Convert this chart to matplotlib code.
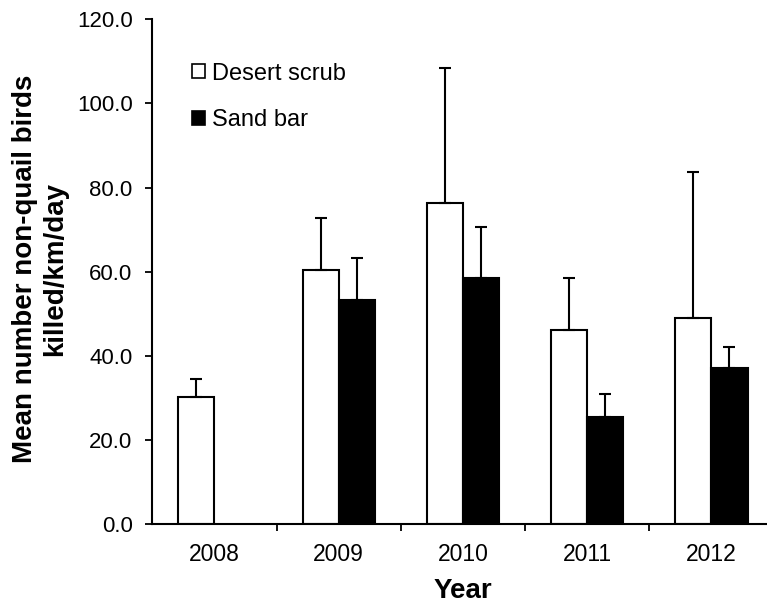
#!/usr/bin/env python3
"""Non-quail bird kills per km per day, desert scrub vs sand bar, 2008-2012."""
import numpy as np
import matplotlib
matplotlib.use("Agg")
import matplotlib.pyplot as plt
from matplotlib.patches import Patch
from matplotlib.ticker import FormatStrFormatter

years = ["2008", "2009", "2010", "2011", "2012"]
desert_mean = [30.3, 60.4, 76.3, 46.1, 49.0]
desert_err = [4.1, 12.3, 32.1, 12.4, 34.8]
sand_mean = [np.nan, 53.2, 58.6, 25.5, 37.2]
sand_err = [np.nan, 10.1, 12.0, 5.3, 4.9]

plt.rcParams["font.family"] = ["Liberation Sans", "DejaVu Sans"]


def main():
    fig = plt.figure(figsize=(7.67, 6.02), dpi=100)
    # axes run a little past the right edge, as in the source image
    ax = fig.add_axes([0.1986, 0.1296, 0.81, 0.8384])

    x = np.arange(len(years))
    w = 0.29
    ekw = dict(elinewidth=1.5, capthick=1.5, ecolor="black")
    ax.bar(x - w / 2, desert_mean, w, color="white", edgecolor="black", lw=1.5,
           yerr=[np.zeros(len(x)), desert_err], capsize=4, error_kw=ekw, zorder=2)
    ax.bar(x + w / 2, sand_mean, w, color="black", edgecolor="black", lw=1.5,
           yerr=[np.zeros(len(x)), sand_err], capsize=4, error_kw=ekw, zorder=2)

    ax.set_xlim(-0.5, 4.5)
    ax.set_ylim(0, 120)
    ax.set_yticks(np.arange(0, 121, 20))
    ax.yaxis.set_major_formatter(FormatStrFormatter("%.1f"))
    ax.set_xticks(x)
    ax.set_xticklabels(years)
    ax.set_xticks(np.arange(0.5, 4, 1), minor=True)
    ax.tick_params(axis="x", which="major", length=0, pad=14, labelsize=16.5)
    ax.tick_params(axis="x", which="minor", length=5, width=1.3, direction="out")
    ax.tick_params(axis="y", length=4.7, width=1.3, direction="out", pad=9.5, labelsize=16)
    for s in ["top", "right"]:
        ax.spines[s].set_visible(False)
    for s in ["left", "bottom"]:
        ax.spines[s].set_linewidth(1.5)

    ax.set_ylabel("Mean number non-quail birds\nkilled/km/day", fontsize=20,
                  fontweight="bold")
    ax.yaxis.set_label_coords(-0.135, 0.505)
    ax.set_xlabel("Year", fontsize=20, fontweight="bold", labelpad=8)

    handles = [Patch(facecolor="white", edgecolor="black", lw=1.2),
               Patch(facecolor="black", edgecolor="black", lw=1.2)]
    ax.legend(handles, ["Desert scrub", "Sand bar"], loc="upper left",
              bbox_to_anchor=(0.049, 0.933), frameon=False, fontsize=17,
              handlelength=0.55, handleheight=0.55, handletextpad=0.3,
              labelspacing=1.05, borderaxespad=0)

    fig.savefig("out.png", dpi=100, facecolor="white")
    plt.close(fig)


if __name__ == "__main__":
    main()
